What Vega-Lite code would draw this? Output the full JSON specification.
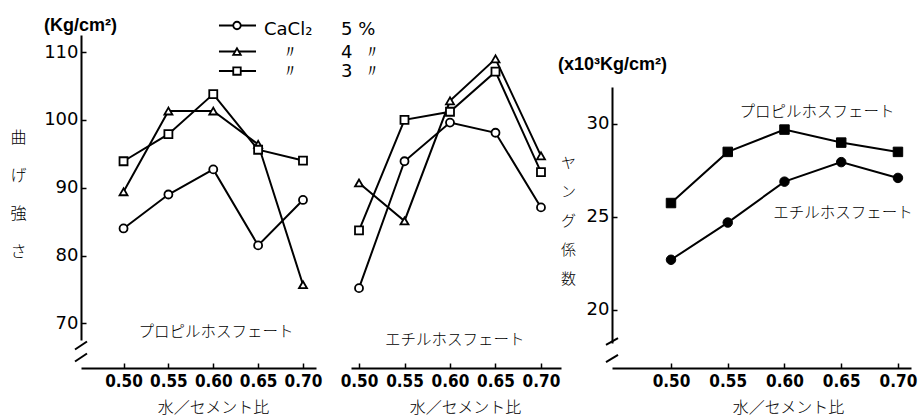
{
  "$schema": "https://vega.github.io/schema/vega-lite/v6.json",
  "background": "white",
  "padding": {"left": 9, "top": 17, "right": 4, "bottom": 8},
  "bounds": "flush",
  "spacing": 35,
  "config": {
    "view": {"stroke": null},
    "axis": {
      "domainColor": "black", "domainWidth": 2, "tickColor": "black", "tickWidth": 1.5, "tickSize": -5,
      "labelColor": "black", "labelFontSize": 18, "grid": false, "titleColor": "black"
    },
    "axisX": {
      "labelFont": "Liberation Sans Narrow, DejaVu Sans Condensed, sans-serif", "labelFontWeight": "bold", "labelFontSize": 17, "labelPadding": 10,
      "titleFont": "Noto Sans CJK JP", "titleFontSize": 16, "titleFontWeight": 300,
      "titleAlign": "center", "titleBaseline": "middle", "titleY": 39
    },
    "axisY": {
      "labelFont": "DejaVu Sans", "labelPadding": 8,
      "titleFont": "Noto Sans CJK JP", "titleFontWeight": 300, "titleAngle": 0,
      "titleAlign": "center", "titleBaseline": "middle"
    }
  },
  "datasets": {
    "strength": [
      {"panel": "propyl", "wc": 0.50, "cacl2": "5%", "value": 84.0},
      {"panel": "propyl", "wc": 0.55, "cacl2": "5%", "value": 89.0},
      {"panel": "propyl", "wc": 0.60, "cacl2": "5%", "value": 92.7},
      {"panel": "propyl", "wc": 0.65, "cacl2": "5%", "value": 81.5},
      {"panel": "propyl", "wc": 0.70, "cacl2": "5%", "value": 88.2},
      {"panel": "propyl", "wc": 0.50, "cacl2": "4%", "value": 89.4},
      {"panel": "propyl", "wc": 0.55, "cacl2": "4%", "value": 101.3},
      {"panel": "propyl", "wc": 0.60, "cacl2": "4%", "value": 101.3},
      {"panel": "propyl", "wc": 0.65, "cacl2": "4%", "value": 96.4},
      {"panel": "propyl", "wc": 0.70, "cacl2": "4%", "value": 75.7},
      {"panel": "propyl", "wc": 0.50, "cacl2": "3%", "value": 93.9},
      {"panel": "propyl", "wc": 0.55, "cacl2": "3%", "value": 97.9},
      {"panel": "propyl", "wc": 0.60, "cacl2": "3%", "value": 103.8},
      {"panel": "propyl", "wc": 0.65, "cacl2": "3%", "value": 95.6},
      {"panel": "propyl", "wc": 0.70, "cacl2": "3%", "value": 94.0},
      {"panel": "ethyl", "wc": 0.50, "cacl2": "5%", "value": 75.2},
      {"panel": "ethyl", "wc": 0.55, "cacl2": "5%", "value": 93.9},
      {"panel": "ethyl", "wc": 0.60, "cacl2": "5%", "value": 99.6},
      {"panel": "ethyl", "wc": 0.65, "cacl2": "5%", "value": 98.1},
      {"panel": "ethyl", "wc": 0.70, "cacl2": "5%", "value": 87.1},
      {"panel": "ethyl", "wc": 0.50, "cacl2": "4%", "value": 90.7},
      {"panel": "ethyl", "wc": 0.55, "cacl2": "4%", "value": 85.1},
      {"panel": "ethyl", "wc": 0.60, "cacl2": "4%", "value": 102.8},
      {"panel": "ethyl", "wc": 0.65, "cacl2": "4%", "value": 109.0},
      {"panel": "ethyl", "wc": 0.70, "cacl2": "4%", "value": 94.7},
      {"panel": "ethyl", "wc": 0.50, "cacl2": "3%", "value": 83.7},
      {"panel": "ethyl", "wc": 0.55, "cacl2": "3%", "value": 100.0},
      {"panel": "ethyl", "wc": 0.60, "cacl2": "3%", "value": 101.2},
      {"panel": "ethyl", "wc": 0.65, "cacl2": "3%", "value": 107.1},
      {"panel": "ethyl", "wc": 0.70, "cacl2": "3%", "value": 92.3}
    ],
    "young": [
      {"kind": "propyl", "wc": 0.50, "value": 25.75},
      {"kind": "propyl", "wc": 0.55, "value": 28.5},
      {"kind": "propyl", "wc": 0.60, "value": 29.7},
      {"kind": "propyl", "wc": 0.65, "value": 29.0},
      {"kind": "propyl", "wc": 0.70, "value": 28.5},
      {"kind": "ethyl", "wc": 0.50, "value": 22.7},
      {"kind": "ethyl", "wc": 0.55, "value": 24.7},
      {"kind": "ethyl", "wc": 0.60, "value": 26.9},
      {"kind": "ethyl", "wc": 0.65, "value": 27.95},
      {"kind": "ethyl", "wc": 0.70, "value": 27.1}
    ],
    "labels": [
      {"panel": "propyl", "wc": 0.603, "value": 68.7, "text": "プロピルホスフェート"},
      {"panel": "ethyl", "wc": 0.6053, "value": 67.5, "text": "エチルホスフェート"},
      {"panel": "young", "wc": 0.6286, "value": 30.65, "text": "プロピルホスフェート"},
      {"panel": "young", "wc": 0.6515, "value": 25.2, "text": "エチルホスフェート"}
    ],
    "breaks": [
      {"panel": "propyl", "wc": 0.4459, "wc2": 0.4593, "value": 66.16, "value2": 67.33},
      {"panel": "propyl", "wc": 0.4459, "wc2": 0.4593, "value": 64.39, "value2": 65.57},
      {"panel": "young", "wc": 0.4427, "wc2": 0.4533, "value": 18.12, "value2": 18.49},
      {"panel": "young", "wc": 0.4427, "wc2": 0.4533, "value": 17.2, "value2": 17.58}
    ],
    "legendGlyphs": [
      {"cacl2": "5%", "x1": 0.3461, "x2": 0.3868, "wc": 0.3659, "value": 113.91},
      {"cacl2": "4%", "x1": 0.3461, "x2": 0.3868, "wc": 0.3659, "value": 110.07},
      {"cacl2": "3%", "x1": 0.3461, "x2": 0.3868, "wc": 0.3659, "value": 107.2}
    ],
    "legendText": [
      {"wc": 0.3956, "value": 113.32, "text": "CaCl₂"},
      {"wc": 0.4802, "value": 113.32, "text": "5 %"},
      {"wc": 0.4143, "value": 109.93, "text": "〃"},
      {"wc": 0.4802, "value": 109.93, "text": "4"},
      {"wc": 0.5044, "value": 109.93, "text": "〃"},
      {"wc": 0.4143, "value": 107.05, "text": "〃"},
      {"wc": 0.4802, "value": 107.05, "text": "3"},
      {"wc": 0.5044, "value": 107.05, "text": "〃"}
    ]
  },
  "resolve": {
    "scale": {"shape": "independent", "x": "independent", "y": "independent"},
    "legend": {"shape": "independent"}
  },
  "hconcat": [
    {
      "width": 235, "height": 333,
      "title": {"text": "(Kg/cm²)", "anchor": "start", "frame": "group", "offset": 6, "dy": 20, "dx": -37, "baseline": "alphabetic", "font": "Liberation Sans", "fontSize": 18, "fontWeight": "bold", "color": "black"},
      "layer": [
        {
          "data": {"name": "strength"},
          "transform": [{"filter": "datum.panel === 'propyl'"}],
          "mark": {"type": "line", "color": "black", "strokeWidth": 2},
          "encoding": {
            "x": {"field": "wc", "type": "quantitative", "scale": {"domain": [0.4526, 0.7145], "nice": false, "zero": false},
                  "axis": {"values": [0.5, 0.55, 0.6, 0.65, 0.7], "format": ".2f", "title": "水／セメント比", "titleX": 132}},
            "y": {"field": "value", "type": "quantitative", "scale": {"domain": [63.43, 112.51], "nice": false, "zero": false},
                  "axis": {"values": [70, 80, 90, 100, 110], "format": "d", "domainDash": [0, 28, 400, 0],
                           "title": ["曲", "げ", "強", "さ"], "titleFontSize": 16, "titleLineHeight": 38, "titleX": -63, "titleY": 102}},
            "detail": {"field": "cacl2"}
          }
        },
        {
          "data": {"name": "strength"},
          "transform": [{"filter": "datum.panel === 'propyl'"}],
          "mark": {"type": "point", "filled": false, "color": "black", "fill": "white", "stroke": "black", "strokeWidth": 1.8, "size": 64, "opacity": 1},
          "encoding": {
            "x": {"field": "wc", "type": "quantitative"},
            "y": {"field": "value", "type": "quantitative"},
            "shape": {"field": "cacl2", "type": "nominal", "scale": {"domain": ["5%", "4%", "3%"], "range": ["circle", "triangle-up", "square"]}, "legend": null}
          }
        },
        {
          "data": {"name": "breaks"},
          "transform": [{"filter": "datum.panel === 'propyl'"}],
          "mark": {"type": "rule", "color": "black", "strokeWidth": 2},
          "encoding": {
            "x": {"field": "wc", "type": "quantitative"},
            "x2": {"field": "wc2"},
            "y": {"field": "value", "type": "quantitative"},
            "y2": {"field": "value2"}
          }
        },
        {
          "data": {"name": "labels"},
          "transform": [{"filter": "datum.panel === 'propyl'"}],
          "mark": {"type": "text", "font": "Noto Sans CJK JP", "fontWeight": 300, "fontSize": 15.5, "color": "black"},
          "encoding": {
            "x": {"field": "wc", "type": "quantitative"},
            "y": {"field": "value", "type": "quantitative"},
            "text": {"field": "text"}
          }
        }
      ]
    },
    {
      "width": 210, "height": 333,
      "layer": [
        {
          "data": {"name": "strength"},
          "transform": [{"filter": "datum.panel === 'ethyl'"}],
          "mark": {"type": "line", "color": "black", "strokeWidth": 2},
          "encoding": {
            "x": {"field": "wc", "type": "quantitative", "scale": {"domain": [0.4912, 0.722], "nice": false, "zero": false},
                  "axis": {"values": [0.5, 0.55, 0.6, 0.65, 0.7], "format": ".2f", "title": "水／セメント比", "titleX": 114}},
            "y": {"field": "value", "type": "quantitative", "scale": {"domain": [63.43, 112.51], "nice": false, "zero": false}, "axis": null},
            "detail": {"field": "cacl2"}
          }
        },
        {
          "data": {"name": "strength"},
          "transform": [{"filter": "datum.panel === 'ethyl'"}],
          "mark": {"type": "point", "filled": false, "color": "black", "fill": "white", "stroke": "black", "strokeWidth": 1.8, "size": 64, "opacity": 1},
          "encoding": {
            "x": {"field": "wc", "type": "quantitative"},
            "y": {"field": "value", "type": "quantitative"},
            "shape": {"field": "cacl2", "type": "nominal", "scale": {"domain": ["5%", "4%", "3%"], "range": ["circle", "triangle-up", "square"]}, "legend": null}
          }
        },
        {
          "data": {"name": "legendGlyphs"},
          "mark": {"type": "rule", "color": "black", "strokeWidth": 2},
          "encoding": {
            "x": {"field": "x1", "type": "quantitative"},
            "x2": {"field": "x2"},
            "y": {"field": "value", "type": "quantitative"}
          }
        },
        {
          "data": {"name": "legendGlyphs"},
          "mark": {"type": "point", "filled": false, "color": "black", "fill": "white", "stroke": "black", "strokeWidth": 1.8, "size": 56, "opacity": 1},
          "encoding": {
            "x": {"field": "wc", "type": "quantitative"},
            "y": {"field": "value", "type": "quantitative"},
            "shape": {"field": "cacl2", "type": "nominal", "scale": {"domain": ["5%", "4%", "3%"], "range": ["circle", "triangle-up", "square"]}, "legend": null}
          }
        },
        {
          "data": {"name": "legendText"},
          "mark": {"type": "text", "align": "left", "baseline": "middle", "font": "DejaVu Sans", "fontSize": 18, "color": "black"},
          "encoding": {
            "x": {"field": "wc", "type": "quantitative"},
            "y": {"field": "value", "type": "quantitative"},
            "text": {"field": "text"}
          }
        },
        {
          "data": {"name": "labels"},
          "transform": [{"filter": "datum.panel === 'ethyl'"}],
          "mark": {"type": "text", "font": "Noto Sans CJK JP", "fontWeight": 300, "fontSize": 15.5, "color": "black"},
          "encoding": {
            "x": {"field": "wc", "type": "quantitative"},
            "y": {"field": "value", "type": "quantitative"},
            "text": {"field": "text"}
          }
        }
      ]
    },
    {
      "width": 315, "height": 333,
      "title": {"text": "(x10³Kg/cm²)", "anchor": "start", "frame": "group", "offset": 0, "dy": 53, "dx": -38, "baseline": "alphabetic", "font": "Liberation Sans", "fontSize": 18, "fontWeight": "bold", "color": "black"},
      "layer": [
        {
          "data": {"name": "young"},
          "mark": {"type": "line", "color": "black", "strokeWidth": 2},
          "encoding": {
            "x": {"field": "wc", "type": "quantitative", "scale": {"domain": [0.4339, 0.7115], "nice": false, "zero": false},
                  "axis": {"values": [0.5, 0.55, 0.6, 0.65, 0.7], "format": ".2f", "title": "水／セメント比", "titleX": 192, "domainDash": [0, 16, 400, 0]}},
            "y": {"field": "value", "type": "quantitative", "scale": {"domain": [16.88, 34.785], "nice": false, "zero": false},
                  "axis": {"values": [20, 25, 30], "format": "d", "offset": -16, "domainDash": [0, 25, 256, 1000],
                           "title": ["ヤ", "ン", "グ", "係", "数"], "titleFontSize": 15, "titleLineHeight": 29, "titleX": -44, "titleY": 127}},
            "detail": {"field": "kind"}
          }
        },
        {
          "data": {"name": "young"},
          "mark": {"type": "point", "filled": true, "fill": "black", "stroke": "black", "strokeWidth": 1, "size": 90, "opacity": 1},
          "encoding": {
            "x": {"field": "wc", "type": "quantitative"},
            "y": {"field": "value", "type": "quantitative"},
            "shape": {"field": "kind", "type": "nominal", "scale": {"domain": ["propyl", "ethyl"], "range": ["square", "circle"]}, "legend": null}
          }
        },
        {
          "data": {"name": "breaks"},
          "transform": [{"filter": "datum.panel === 'young'"}],
          "mark": {"type": "rule", "color": "black", "strokeWidth": 2},
          "encoding": {
            "x": {"field": "wc", "type": "quantitative"},
            "x2": {"field": "wc2"},
            "y": {"field": "value", "type": "quantitative"},
            "y2": {"field": "value2"}
          }
        },
        {
          "data": {"name": "labels"},
          "transform": [{"filter": "datum.panel === 'young'"}],
          "mark": {"type": "text", "font": "Noto Sans CJK JP", "fontWeight": 300, "fontSize": 15.5, "color": "black"},
          "encoding": {
            "x": {"field": "wc", "type": "quantitative"},
            "y": {"field": "value", "type": "quantitative"},
            "text": {"field": "text"}
          }
        }
      ]
    }
  ]
}
